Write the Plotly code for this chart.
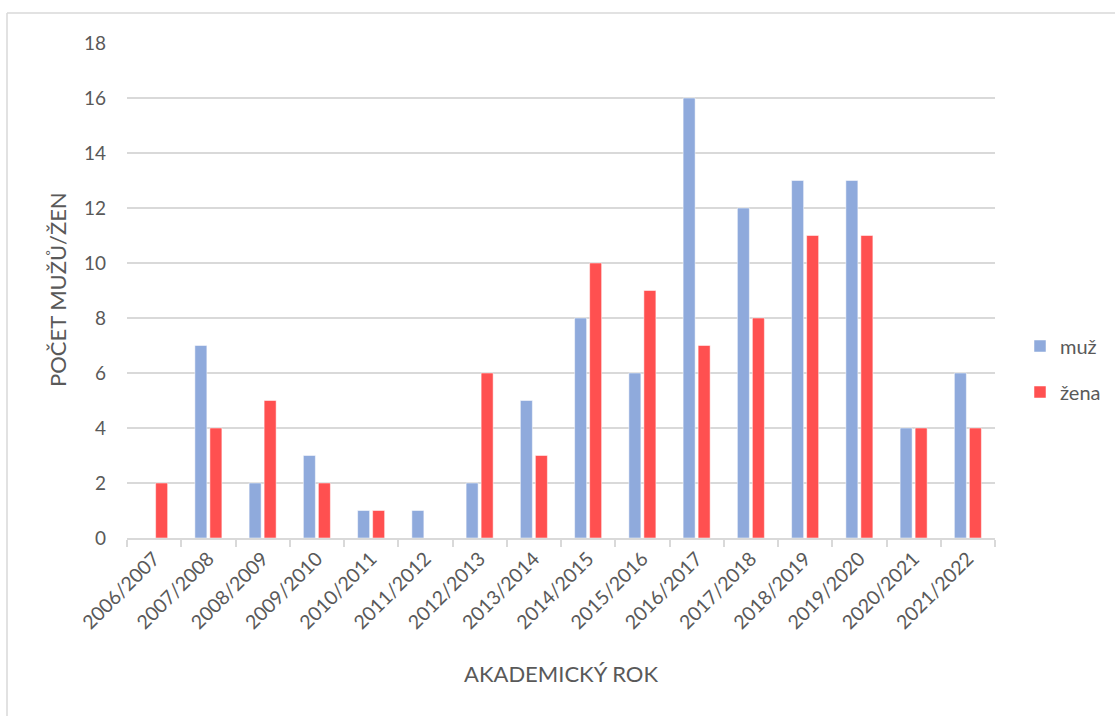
import plotly.graph_objects as go

roky = ["2006/2007", "2007/2008", "2008/2009", "2009/2010", "2010/2011", "2011/2012",
        "2012/2013", "2013/2014", "2014/2015", "2015/2016", "2016/2017", "2017/2018",
        "2018/2019", "2019/2020", "2020/2021", "2021/2022"]
muz = [0, 7, 2, 3, 1, 1, 2, 5, 8, 6, 16, 12, 13, 13, 4, 6]
zena = [2, 4, 5, 2, 1, 0, 6, 3, 10, 9, 7, 8, 11, 11, 4, 4]

W, H = 1115, 716
L, R, T, B = 127, 120, 43, 178
pw, ph = W - L - R, H - T - B
font = "Lato, 'Open Sans', sans-serif"
grey = "#595959"

fig = go.Figure()
fig.add_trace(go.Bar(x=roky, y=muz, name="muž", marker_color="#8FAADC",
                     legendgroup="a"))
fig.add_trace(go.Bar(x=roky, y=zena, name="žena", marker_color="#FF5050",
                     legendgroup="b"))

# rámeček grafu (levá a horní hrana)
def px(x):
    return (x - L) / pw

def py(y):
    return (H - B - y) / ph

fig.add_shape(type="line", xref="paper", yref="paper",
              x0=px(7), x1=px(7), y0=py(13), y1=py(H + 5),
              line=dict(color="#D9D9D9", width=1.5))
fig.add_shape(type="line", xref="paper", yref="paper",
              x0=px(7), x1=px(W + 5), y0=py(13), y1=py(13),
              line=dict(color="#D9D9D9", width=1.5))

# popisek osy y jako anotace (přesnější umístění)
fig.add_annotation(text="POČET MUŽŮ/ŽEN", textangle=-90, showarrow=False,
                   xref="paper", yref="paper", x=px(57), y=py(290),
                   xanchor="center", yanchor="middle",
                   font=dict(size=22, color=grey))

fig.update_layout(
    width=W, height=H,
    template="plotly_white",
    paper_bgcolor="white", plot_bgcolor="white",
    margin=dict(l=L, r=R, t=T, b=B, autoexpand=False),
    font=dict(family=font, size=19, color=grey),
    barmode="group", bargap=0.447, bargroupgap=0.2,
    showlegend=True,
    legend=dict(x=px(1020), y=py(369), xanchor="left", yanchor="middle",
                tracegroupgap=17, font=dict(size=20, color=grey),
                itemwidth=30),
    xaxis=dict(
        title=dict(text="AKADEMICKÝ ROK", font=dict(size=22, color=grey), standoff=34),
        tickangle=-45, tickfont=dict(size=19.5, color=grey),
        showgrid=False, showline=True, linecolor="#D9D9D9", linewidth=1.5,
        ticks="outside", tickson="boundaries", ticklen=7, tickcolor="#D9D9D9",
        tickwidth=1.5,
    ),
    yaxis=dict(
        range=[0, 18], dtick=2, tickfont=dict(size=19, color=grey),
        showgrid=True, gridcolor="#D9D9D9", gridwidth=1.5,
        zeroline=False, showline=False, ticklabelstandoff=20,
    ),
)

fig.write_html("out.html", config={"displayModeBar": False},
               post_script="document.body.style.margin='0';")
